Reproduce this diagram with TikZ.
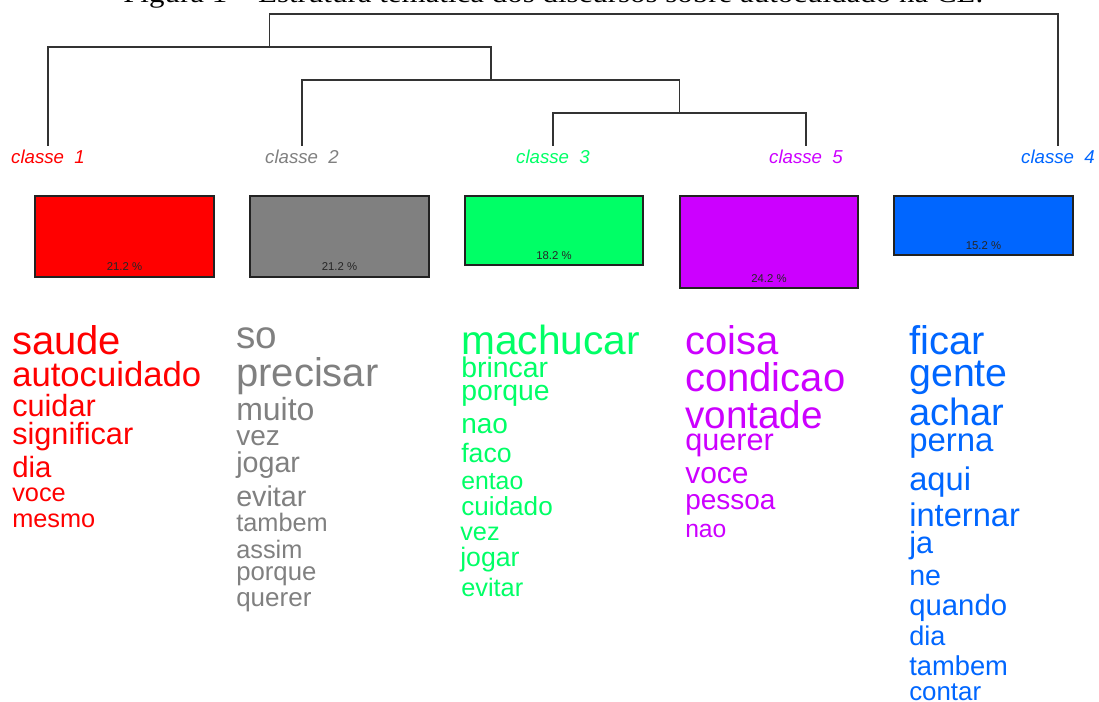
\documentclass[tikz,border=0pt]{standalone}
\usepackage{graphicx}
\usepackage{fontspec}
\setmainfont{Liberation Sans}
\newfontfamily\capfont{Liberation Serif}
\definecolor{cA}{HTML}{FF0000}
\definecolor{cB}{HTML}{808080}
\definecolor{cC}{HTML}{00FF66}
\definecolor{cE}{HTML}{CC00FF}
\definecolor{cD}{HTML}{0066FF}
\definecolor{dendro}{HTML}{333333}
\definecolor{boxline}{HTML}{222222}
\newcommand\wordat[5]{\node[word,text=#1,font=\fontsize{#2}{#2}\selectfont] (#3) at #4 {#5};}
\begin{document}
\begin{tikzpicture}[x=0.75pt,y=-0.75pt,
  dend/.style={draw=dendro,line width=1.1pt},
  clabel/.style={anchor=base,inner sep=0pt,font=\fontsize{14}{14}\selectfont\itshape},
  bar/.style={draw=boxline,line width=1pt},
  pct/.style={anchor=base,inner sep=0pt,text=black!85,font=\fontsize{8.5}{8.5}\selectfont},
  word/.style={anchor=base west,inner sep=0pt}]
\useasboundingbox (0,0) rectangle (1099,702);
\clip (0,0) rectangle (1099,702);
% caption (cut off at the top)
\node[anchor=base west,inner sep=0pt,font=\fontsize{20}{20}\selectfont\capfont] (cap) at (123,3) {\scalebox{1.16}[1]{Figura 1 – Estrutura temática dos discursos sobre autocuidado na CL.}};
% class labels
\node[clabel,text=cA] (l1) at (48,163.3) {classe\ \ 1};
\node[clabel,text=cB] (l2) at (302,163.3) {classe\ \ 2};
\node[clabel,text=cC] (l3) at (553,163.3) {classe\ \ 3};
\node[clabel,text=cE] (l5) at (806,163.3) {classe\ \ 5};
\node[clabel,text=cD] (l4) at (1058,163.3) {classe\ \ 4};
% dendrogram
\coordinate (b1) at (48,146);
\coordinate (b2) at (302,146);
\coordinate (b3) at (553,146);
\coordinate (b5) at (806,146);
\coordinate (b4) at (1058,146);
\coordinate (k35) at (679.5,113);
\coordinate (k235) at (491,80);
\coordinate (k1235) at (269.5,47);
\coordinate (root) at (664,14);
\draw[dend] (b3) |- (k35) -| (b5);
\draw[dend] (b2) |- (k235) -| (k35);
\draw[dend] (b1) |- (k1235) -| (k235);
\draw[dend] (k1235) |- (root) -| (b4);
% bars
\draw[bar,fill=cA] (35,196) rectangle (214,277);
\draw[bar,fill=cB] (250,196) rectangle (429,277);
\draw[bar,fill=cC] (465,196) rectangle (643,265);
\draw[bar,fill=cE] (680,196) rectangle (858,288);
\draw[bar,fill=cD] (894,196) rectangle (1073,255);
\node[pct] (p1) at (124.5,271) {21.2 \%};
\node[pct] (p2) at (339.5,271) {21.2 \%};
\node[pct] (p3) at (554,259.5) {18.2 \%};
\node[pct] (p5) at (769,282.5) {24.2 \%};
\node[pct] (p4) at (983.5,249.5) {15.2 \%};
% classe 1
\wordat{cA}{30}{a1}{(12,354)}{saude}
\wordat{cA}{26}{a2}{(12,386)}{autocuidado}
\wordat{cA}{23}{a3}{(12,416)}{cuidar}
\wordat{cA}{23}{a4}{(12,444)}{significar}
\wordat{cA}{22}{a5}{(12,477.7)}{dia}
\wordat{cA}{19}{a6}{(12,501)}{voce}
\wordat{cA}{19}{a7}{(12,527.7)}{mesmo}
% classe 2
\wordat{cB}{29}{g1}{(236,348)}{so}
\wordat{cB}{30}{g2}{(236,386)}{precisar}
\wordat{cB}{24}{g3}{(236,420)}{muito}
\wordat{cB}{21}{g4}{(236,445)}{vez}
\wordat{cB}{21.5}{g5}{(236,472.7)}{jogar}
\wordat{cB}{21.5}{g6}{(236,506)}{evitar}
\wordat{cB}{19}{g7}{(236,531.7)}{tambem}
\wordat{cB}{19}{g8}{(236,558)}{assim}
\wordat{cB}{19.3}{g9}{(236,580)}{porque}
\wordat{cB}{19.5}{g10}{(236,606.7)}{querer}
% classe 3
\wordat{cC}{30.5}{v1}{(461,354)}{machucar}
\wordat{cC}{21.3}{v2}{(461,377.7)}{brincar}
\wordat{cC}{21.3}{v3}{(461,400.7)}{porque}
\wordat{cC}{21}{v4}{(461,433.3)}{nao}
\wordat{cC}{20}{v5}{(461,462.3)}{faco}
\wordat{cC}{18.6}{v6}{(461,489)}{entao}
\wordat{cC}{19.6}{v7}{(461,515.7)}{cuidado}
\wordat{cC}{19}{v8}{(460,540)}{vez}
\wordat{cC}{20}{v9}{(460,566.7)}{jogar}
\wordat{cC}{19}{v10}{(461,596.7)}{evitar}
% classe 5
\wordat{cE}{30}{e1}{(685,354.3)}{coisa}
\wordat{cE}{30}{e2}{(685,391)}{condicao}
\wordat{cE}{29}{e3}{(685,428.3)}{vontade}
\wordat{cE}{23}{e4}{(685,450)}{querer}
\wordat{cE}{22.5}{e5}{(685,483.3)}{voce}
\wordat{cE}{21}{e6}{(685,509)}{pessoa}
\wordat{cE}{18.5}{e7}{(685,537.7)}{nao}
% classe 4
\wordat{cD}{30}{d1}{(909,354.3)}{ficar}
\wordat{cD}{29.5}{d2}{(909,386)}{gente}
\wordat{cD}{28.5}{d3}{(909,425)}{achar}
\wordat{cD}{24.7}{d4}{(909,451.7)}{perna}
\wordat{cD}{24.5}{d5}{(909,490)}{aqui}
\wordat{cD}{24.5}{d6}{(909,526.7)}{internar}
\wordat{cD}{23}{d7}{(909,553.3)}{ja}
\wordat{cD}{21.4}{d8}{(909,585)}{ne}
\wordat{cD}{22}{d9}{(909,615)}{quando}
\wordat{cD}{20.3}{d10}{(909,645)}{dia}
\wordat{cD}{20.5}{d11}{(909,675)}{tambem}
\wordat{cD}{19.4}{d12}{(909,700)}{contar}
\end{tikzpicture}
\end{document}
